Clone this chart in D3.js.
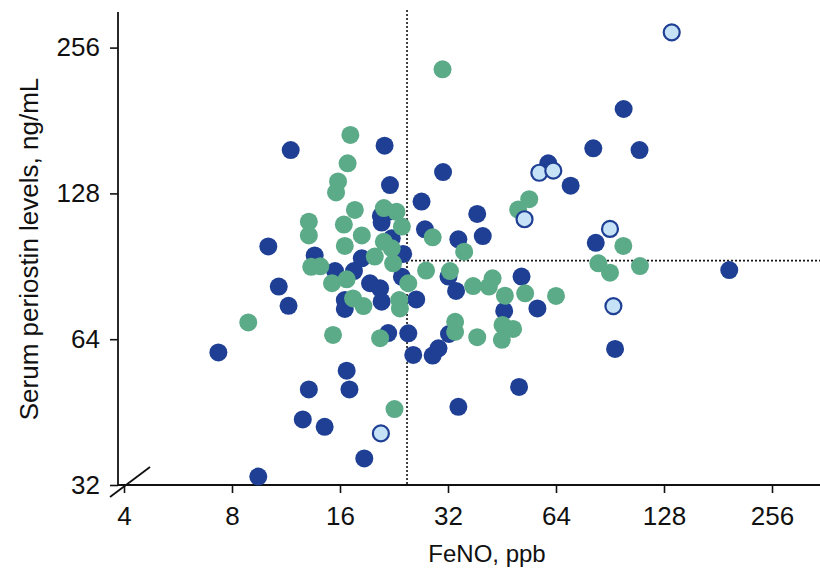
<!DOCTYPE html>
<html>
<head>
<meta charset="utf-8">
<script src="https://cdn.jsdelivr.net/npm/d3@7"></script>
<style>
  body { margin: 0; background: #fff; }
  text { font-family: "Liberation Sans", Arial, sans-serif; fill: #111; }
</style>
</head>
<body>
<script>
// FeNO (ppb) and serum periostin (ng/mL) per group
var darkFeNO = [11.66, 21.3, 22.05, 31.0, 81.3, 109.4, 98.8, 60.9, 70.3, 38.6, 40.0, 34.2, 82.6, 194.6, 51.3, 33.7, 45.9, 56.8, 32.1, 27.0, 27.6, 24.0, 26.1, 29.0, 30.1, 25.6, 24.8, 21.8, 34.2, 50.5, 93.5, 13.6, 15.5, 17.5, 18.4, 19.4, 20.7, 20.9, 16.5, 16.5, 23.8, 10.1, 10.8, 11.5, 7.33, 9.47, 12.6, 14.5, 13.1, 16.7, 17.0, 18.7, 20.8, 21.8, 20.9, 22.3, 32.2];
var darkPeriostin = [157.3, 160.6, 133.2, 141.7, 158.6, 157.3, 191.2, 147.7, 132.8, 116.1, 104.5, 102.9, 101.2, 88.9, 86.2, 80.5, 73.2, 74.1, 86.2, 123.1, 107.9, 96.0, 77.3, 59.2, 61.3, 59.4, 65.8, 65.9, 46.4, 51.0, 61.1, 95.3, 88.5, 88.5, 94.0, 83.5, 81.5, 76.5, 77.1, 73.9, 86.1, 99.5, 82.2, 75.0, 60.1, 33.3, 43.7, 42.2, 50.4, 55.1, 50.4, 36.3, 115.0, 117.2, 111.4, 103.4, 65.6];

var greenFeNO = [30.9, 53.9, 50.2, 98.6, 35.5, 84.0, 90.5, 109.7, 32.4, 37.6, 42.6, 41.6, 46.1, 52.5, 64.0, 33.5, 45.4, 48.6, 45.2, 38.6, 33.5, 27.8, 29.0, 24.8, 23.8, 23.0, 21.2, 21.2, 22.3, 22.5, 20.0, 18.4, 16.5, 16.4, 17.6, 13.1, 13.1, 15.8, 15.6, 17.1, 16.8, 13.3, 14.1, 15.2, 16.7, 17.4, 18.6, 23.4, 23.5, 15.3, 20.7, 8.88, 22.7];
var greenPeriostin = [230.9, 124.5, 118.5, 99.7, 97.0, 91.8, 87.8, 90.6, 88.5, 82.4, 85.5, 82.2, 78.7, 79.6, 78.6, 69.5, 68.5, 67.2, 63.8, 64.6, 66.3, 88.7, 103.9, 83.5, 109.3, 117.3, 119.4, 101.7, 98.6, 91.8, 94.8, 104.8, 99.7, 110.4, 118.3, 111.9, 104.8, 135.5, 128.6, 169.0, 147.7, 90.3, 90.5, 83.5, 85.1, 77.7, 74.9, 77.1, 74.1, 65.3, 64.3, 69.3, 45.9];

var lightFeNO = [134.5, 57.5, 62.9, 52.3, 90.5, 92.5, 20.8];
var lightPeriostin = [275.3, 141.2, 142.6, 113.2, 108.1, 74.9, 40.9];

var xTicks = [4, 8, 16, 32, 64, 128, 256];
var yTicks = [32, 64, 128, 256];
var feNOCut = 24.6;
var periostinCut = 93;

var width = 820, height = 573;
var darkBlue = "#1e3f94", green = "#5cab88", lightBlue = "#c6e2f7";

var svg = d3.select("body").append("svg")
    .attr("width", width)
    .attr("height", height);

//log2 scales
var x = d3.scaleLog().base(2).domain([4, 256]).range([124, 772]);
var y = d3.scaleLog().base(2).domain([32, 256]).range([485, 47.6]);

var axisX0 = 118, axisY0 = 485;

//x axis
var gx = svg.append("g")
    .attr("transform", "translate(0," + axisY0 + ")")
    .call(d3.axisBottom(x).tickValues(xTicks).tickFormat(d3.format("d")).tickSizeOuter(0).tickSize(8).tickPadding(14));
gx.select(".domain").remove();
gx.selectAll("line").attr("stroke", "#111").attr("stroke-width", 1.6);
gx.selectAll("text").attr("font-size", 26).style("fill", "#111");
gx.append("line")
    .attr("x1", axisX0).attr("x2", width)
    .attr("stroke", "#111").attr("stroke-width", 1.8);

//y axis
var gy = svg.append("g")
    .attr("transform", "translate(" + axisX0 + ",0)")
    .call(d3.axisLeft(y).tickValues(yTicks).tickFormat(d3.format("d")).tickSizeOuter(0).tickSize(8).tickPadding(10));
gy.select(".domain").remove();
gy.selectAll("line").attr("stroke", "#111").attr("stroke-width", 1.6);
gy.selectAll("text").attr("font-size", 26).style("fill", "#111");
gy.append("line")
    .attr("y1", 12).attr("y2", axisY0)
    .attr("stroke", "#111").attr("stroke-width", 1.8);

//axis break
svg.append("line")
    .attr("x1", axisX0 - 8).attr("y1", axisY0 + 12)
    .attr("x2", axisX0 + 32).attr("y2", axisY0 - 18)
    .attr("stroke", "#111").attr("stroke-width", 1.8);

//cut-off lines
svg.append("line")
    .attr("x1", x(feNOCut)).attr("x2", x(feNOCut))
    .attr("y1", 10).attr("y2", axisY0)
    .attr("stroke", "#111").attr("stroke-width", 1.6)
    .attr("stroke-dasharray", "2,2");
svg.append("line")
    .attr("x1", x(feNOCut)).attr("x2", width)
    .attr("y1", y(periostinCut)).attr("y2", y(periostinCut))
    .attr("stroke", "#111").attr("stroke-width", 1.6)
    .attr("stroke-dasharray", "2,2");

//points
function drawDots(xs, ys, fill, stroke){
    svg.append("g").selectAll("circle")
        .data(xs.map(function(d, i){ return [d, ys[i]]; }))
        .enter()
        .append("circle")
        .attr("cx", function(d){ return x(d[0]); })
        .attr("cy", function(d){ return y(d[1]); })
        .attr("r", stroke ? 8 : 9)
        .attr("fill", fill)
        .attr("stroke", stroke || "none")
        .attr("stroke-width", stroke ? 2.2 : 0);
}
drawDots(darkFeNO, darkPeriostin, darkBlue);
drawDots(greenFeNO, greenPeriostin, green);
drawDots(lightFeNO, lightPeriostin, lightBlue, darkBlue);

//axis titles
svg.append("text")
    .attr("x", 487).attr("y", 562)
    .attr("text-anchor", "middle")
    .attr("font-size", 24)
    .text("FeNO, ppb");
svg.append("text")
    .attr("transform", "translate(38,249) rotate(-90)")
    .attr("text-anchor", "middle")
    .attr("font-size", 26)
    .text("Serum periostin levels, ng/mL");
</script>
</body>
</html>
